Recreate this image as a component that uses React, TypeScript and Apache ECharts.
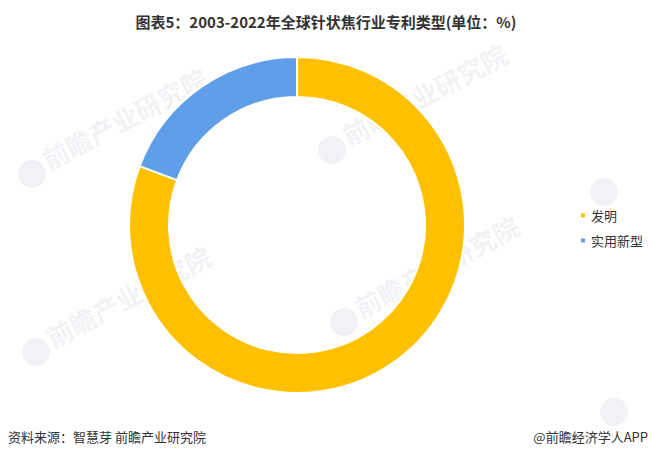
import React, { useEffect, useRef } from "react";
import * as echarts from "echarts";

const categories = ["发明", "实用新型"];
const values = [80.7, 19.3];
const colors = ["#FFC000", "#609EE8"];

const titleText = "图表5：2003-2022年全球针状焦行业专利类型(单位：%)";
const sourceText = "资料来源：智慧芽 前瞻产业研究院";
const brandText = "@前瞻经济学人APP";

const watermarkSpots = [
  [18, 182],
  [318, 158],
  [22, 360],
  [330, 330],
];

export default function App() {
  const ref = useRef<HTMLDivElement>(null);
  useEffect(() => {
    document.body.style.margin = "0";
    const chart = echarts.init(ref.current!, undefined, { renderer: "svg" });
    const font = "'Noto Sans CJK SC', 'Noto Sans', sans-serif";
    const wmColor = "rgba(205,210,220,0.28)";
    const watermarks: any[] = [];
    watermarkSpots.forEach(([x, y]) => {
      watermarks.push({
        type: "circle",
        shape: { cx: x + 14, cy: y - 8, r: 14 },
        style: { fill: wmColor },
        z: -1,
      });
      watermarks.push({
        type: "text",
        x: x + 32,
        y: y - 10,
        rotation: (28 * Math.PI) / 180,
        style: {
          text: "前瞻产业研究院",
          fill: wmColor,
          font: `bold 26px ${font}`,
          textVerticalAlign: "bottom",
        },
        z: -1,
      });
    });
    [[590, 200], [600, 420]].forEach(([x, y]) => {
      watermarks.push({
        type: "circle",
        shape: { cx: x + 14, cy: y - 8, r: 14 },
        style: { fill: wmColor },
        z: -1,
      });
    });
    chart.setOption({
      animation: false,
      backgroundColor: "#ffffff",
      title: {
        text: titleText,
        left: "center",
        top: 9,
        textStyle: {
          fontFamily: font,
          fontSize: 15,
          fontWeight: "bold",
          color: "#333333",
        },
      },
      legend: {
        orient: "vertical",
        left: 574,
        top: 204,
        itemWidth: 6,
        itemHeight: 6,
        itemGap: 12,
        icon: "rect",
        data: categories,
        textStyle: { fontFamily: font, fontSize: 13, color: "#333333" },
      },
      graphic: [
        ...watermarks,
        {
          type: "text",
          left: 8,
          top: 430,
          style: {
            text: sourceText,
            fill: "#333333",
            font: `13px ${font}`,
          },
        },
        {
          type: "text",
          right: 4,
          top: 430,
          style: {
            text: brandText,
            fill: "#333333",
            font: `13px ${font}`,
          },
        },
      ],
      series: [
        {
          type: "pie",
          center: [297, 225],
          radius: [128, 168],
          startAngle: 90,
          clockwise: true,
          label: { show: false },
          labelLine: { show: false },
          itemStyle: { borderColor: "#ffffff", borderWidth: 2 },
          emphasis: { disabled: true },
          data: categories.map((name, i) => ({
            name,
            value: values[i],
            itemStyle: { color: colors[i] },
          })),
        },
      ],
    });
    return () => chart.dispose();
  }, []);
  return (
    <div
      ref={ref}
      style={{ position: "absolute", left: 0, top: 0, width: 652, height: 460 }}
    />
  );
}
